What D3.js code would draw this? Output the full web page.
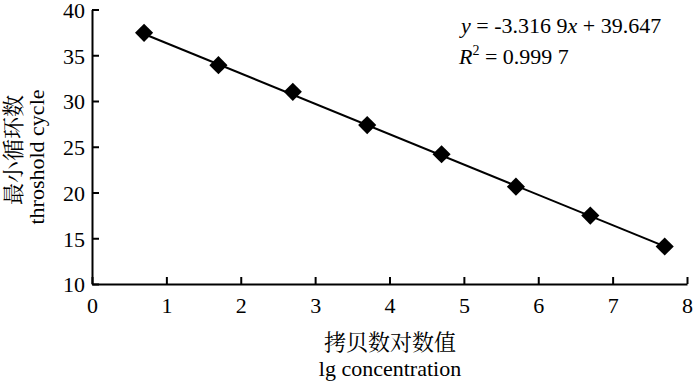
<!DOCTYPE html>
<html><head><meta charset="utf-8">
<script src="https://cdn.jsdelivr.net/npm/d3@7"></script>
</head><body style="margin:0"><svg id="c" width="700" height="384"></svg>
<script>
const xValues = [0.7, 1.7, 2.7, 3.7, 4.7, 5.7, 6.7, 7.7];
const yValues = [37.45, 33.92, 31.0, 27.37, 24.18, 20.64, 17.48, 14.1];
const xTicks = [0,1,2,3,4,5,6,7,8];
const yTicks = [10,15,20,25,30,35,40];
const slope = -3.3169, intercept = 39.647;
const trendX = [0.7, 7.7];

const SERIF = "Liberation Serif";
const CJK = "Noto Serif CJK SC";
const svg = d3.select("#c");
const x = d3.scaleLinear().domain([0,8]).range([92,687]);
const y = d3.scaleLinear().domain([10,40]).range([284,9.5]);

const xa = svg.append("g").attr("transform","translate(0,284)")
  .call(d3.axisBottom(x).tickValues(xTicks).tickSizeInner(-7).tickSizeOuter(0).tickPadding(13));
const ya = svg.append("g").attr("transform","translate(92,0)")
  .call(d3.axisLeft(y).tickValues(yTicks).tickSizeInner(-7).tickSizeOuter(0).tickPadding(7));
[xa,ya].forEach(g=>{
  g.attr("font-family", SERIF).attr("font-size", 22);
  g.selectAll("path,line").attr("stroke","#000").attr("stroke-width",2);
  g.selectAll("text").attr("fill","#000").attr("font-family", SERIF).attr("font-size",22);
});
ya.selectAll("text").attr("dy","0.36em");

svg.append("path")
  .attr("d", d3.line()(trendX.map(v=>[x(v), y(slope*v+intercept)])))
  .attr("stroke","#000").attr("stroke-width",2).attr("fill","none");

svg.selectAll(".pt").data(xValues).join("path")
  .attr("d", d3.symbol(d3.symbolSquare, 165)())
  .attr("transform",(d,i)=>`translate(${x(d)},${y(yValues[i])}) rotate(45)`)
  .attr("fill","#000");

function t(xp, yp, size, fam){
  return svg.append("text").attr("x",xp).attr("y",yp).attr("font-size",size).attr("font-family",fam).attr("fill","#000");
}
const eq = t(461,33,22,SERIF);
eq.append("tspan").attr("font-style","italic").text("y");
eq.append("tspan").text(" = -3.316 9");
eq.append("tspan").attr("font-style","italic").text("x");
eq.append("tspan").text(" + 39.647");
const r2 = t(459,64,22,SERIF);
r2.append("tspan").attr("font-style","italic").text("R");
r2.append("tspan").attr("font-size",14).attr("dy",-9).text("2");
r2.append("tspan").attr("dy",9).text(" = 0.999 7");

t(390,350,22,CJK).attr("text-anchor","middle").text("拷贝数对数值");
t(390,376,22,SERIF).attr("text-anchor","middle").text("lg concentration");

t(0,0,22,CJK).attr("transform","translate(21,150) rotate(-90)").attr("text-anchor","middle").text("最小循环数");
t(0,0,22,SERIF).attr("transform","translate(44,157) rotate(-90)").attr("text-anchor","middle").text("throshold cycle");
</script></body></html>
